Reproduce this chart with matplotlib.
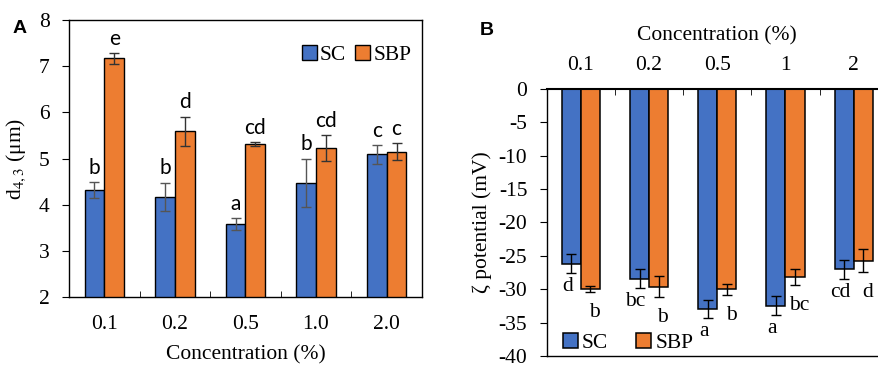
import numpy as np
import matplotlib
matplotlib.use("Agg")
import matplotlib.pyplot as plt

plt.rcParams['font.family'] = ['Liberation Serif', 'DejaVu Serif']
plt.rcParams['mathtext.fontset'] = 'stix'
plt.rcParams['axes.unicode_minus'] = False

# === Data ===
conc_a = ["0.1", "0.2", "0.5", "1.0", "2.0"]
conc_b = ["0.1", "0.2", "0.5", "1", "2"]

d43_sc = [4.32, 4.17, 3.59, 4.48, 5.09]
d43_sc_err = [0.18, 0.31, 0.13, 0.52, 0.21]
d43_sbp = [7.17, 5.59, 5.32, 5.23, 5.15]
d43_sbp_err = [0.12, 0.32, 0.04, 0.28, 0.19]
d43_sc_lab = ["b", "b", "a", "b", "c"]
d43_sbp_lab = ["e", "d", "cd", "cd", "c"]

zeta_sc = [-26.2, -28.45, -32.95, -32.45, -27.05]
zeta_sc_err = [1.4, 1.4, 1.4, 1.4, 1.4]
zeta_sbp = [-29.95, -29.6, -30.0, -28.15, -25.75]
zeta_sbp_err = [0.45, 1.6, 0.85, 1.2, 1.7]
zeta_sc_lab = ["d", "bc", "a", "a", "cd"]
zeta_sbp_lab = ["b", "b", "b", "bc", "d"]

blue = "#4472C4"
orange = "#ED7D31"
w = 0.28
fs = 15.5

fig = plt.figure(figsize=(8.79, 3.65), dpi=100)

# === Panel A ===
ax1 = fig.add_axes([0.0785, 0.186, 0.4015, 0.759])
x = np.arange(len(conc_a))
ax1.bar(x - w / 2, d43_sc, w, color=blue, edgecolor='black', linewidth=1.0,
        yerr=d43_sc_err, capsize=3.5, error_kw=dict(ecolor='#555555', elinewidth=1.0, capthick=1.0),
        label="SC", zorder=2)
ax1.bar(x + w / 2, d43_sbp, w, color=orange, edgecolor='black', linewidth=1.0,
        yerr=d43_sbp_err, capsize=3.5, error_kw=dict(ecolor='#333333', elinewidth=1.0, capthick=1.0),
        label="SBP", zorder=2)
for i in range(len(conc_a)):
    ax1.annotate(d43_sc_lab[i], (x[i] - w / 2, d43_sc[i] + d43_sc_err[i]), xytext=(0, 3),
                 textcoords='offset points', ha='center', va='bottom', fontsize=15, family='Lato')
    ax1.annotate(d43_sbp_lab[i], (x[i] + w / 2, d43_sbp[i] + d43_sbp_err[i]), xytext=(0, 3),
                 textcoords='offset points', ha='center', va='bottom', fontsize=15, family='Lato')
ax1.set_xlim(-0.5, len(conc_a) - 0.5)
ax1.set_ylim(2, 8)
ax1.set_xticks(x)
ax1.set_xticklabels(conc_a, fontsize=fs)
ax1.set_xticks(x[:-1] + 0.5, minor=True)
ax1.tick_params(axis='x', which='major', length=0, pad=13)
ax1.tick_params(axis='x', which='minor', direction='in', length=4)
ax1.set_yticks(range(2, 9))
ax1.tick_params(axis='y', labelsize=fs, length=5, direction='out', pad=9)
ax1.set_xlabel("Concentration (%)", fontsize=fs, labelpad=8)
ax1.set_ylabel("d$_{4,3}$ (μm)", fontsize=fs, labelpad=8)
for s in ax1.spines.values():
    s.set_linewidth(1.0)
ax1.legend(loc='upper right', bbox_to_anchor=(1.0, 0.95), ncol=2, frameon=False,
           fontsize=fs, handlelength=0.7, handleheight=0.7, handletextpad=0.15,
           columnspacing=0.4, borderpad=0)
fig.text(0.0148, 0.91, "A", fontsize=14, fontweight='bold', family='Liberation Sans')

# === Panel B ===
ax2 = fig.add_axes([0.622, 0.025, 0.388, 0.731])
x2 = np.arange(len(conc_b))
ax2.bar(x2 - w / 2, zeta_sc, w, color=blue, edgecolor='black', linewidth=1.1,
        yerr=zeta_sc_err, capsize=3.5, error_kw=dict(ecolor='black', elinewidth=1.0, capthick=1.0),
        label="SC", zorder=2)
ax2.bar(x2 + w / 2, zeta_sbp, w, color=orange, edgecolor='black', linewidth=1.1,
        yerr=zeta_sbp_err, capsize=3.5, error_kw=dict(ecolor='black', elinewidth=1.0, capthick=1.0),
        label="SBP", zorder=2)
for i in range(len(conc_b)):
    ax2.annotate(zeta_sc_lab[i], (x2[i] - w / 2, zeta_sc[i] - zeta_sc_err[i]), xytext=(-3, -3),
                 textcoords='offset points', ha='center', va='top', fontsize=fs)
    ax2.annotate(zeta_sbp_lab[i], (x2[i] + w / 2, zeta_sbp[i] - zeta_sbp_err[i]), xytext=(3, -8),
                 textcoords='offset points', ha='center', va='top', fontsize=fs)
ax2.set_xlim(-0.5, len(conc_b) - 0.5)
ax2.set_ylim(-40, 0)
ax2.set_yticks(range(-40, 1, 5))
ax2.xaxis.tick_top()
ax2.xaxis.set_label_position('top')
ax2.set_xticks(x2)
ax2.set_xticklabels(conc_b, fontsize=fs)
ax2.set_xticks(x2[:-1] + 0.5, minor=True)
ax2.tick_params(axis='x', which='major', length=0, pad=10)
ax2.tick_params(axis='x', which='minor', direction='in', length=4, top=True, bottom=False)
ax2.tick_params(axis='y', labelsize=fs, length=5, direction='out', pad=9)
ax2.set_xlabel("Concentration (%)", fontsize=fs, labelpad=11)
ax2.set_ylabel("ζ potential (mV)", fontsize=fs, labelpad=5)
ax2.spines['top'].set_linewidth(1.5)
ax2.spines['left'].set_linewidth(1.0)
ax2.spines['bottom'].set_linewidth(1.0)
ax2.legend(loc='lower left', bbox_to_anchor=(0.015, -0.03), ncol=2, frameon=False,
           fontsize=fs, handlelength=0.7, handleheight=0.7, handletextpad=0.2,
           columnspacing=1.3, borderpad=0)
fig.text(0.546, 0.905, "B", fontsize=14, fontweight='bold', family='Liberation Sans')

fig.savefig("out.png", dpi=100)
